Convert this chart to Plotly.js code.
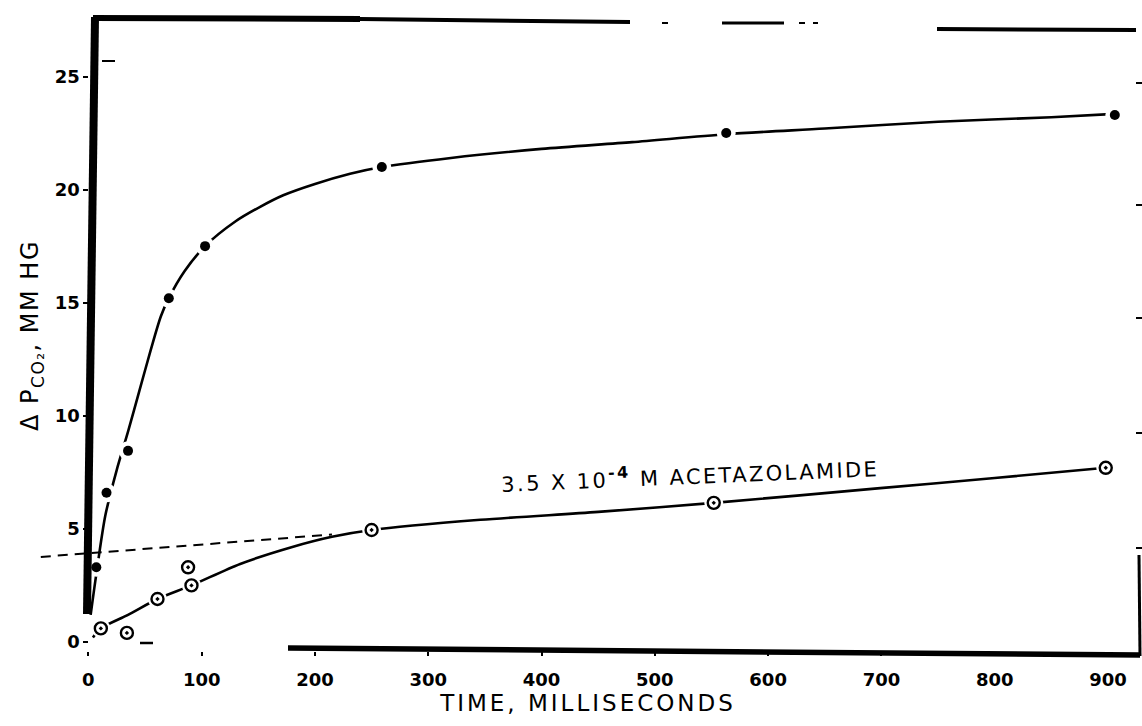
<!DOCTYPE html>
<html>
<head>
<meta charset="utf-8">
<script src="https://cdn.plot.ly/plotly-3.0.1.min.js"></script>
<style>
  html, body { margin: 0; padding: 0; background: #ffffff; }
  #chart { width: 1142px; height: 726px; }
  .xtitle { letter-spacing: 3px; }
  .ytitle { letter-spacing: 1.5px; }
  .annotation-text { letter-spacing: 2.4px; }
</style>
</head>
<body>
<div id="chart"></div>
<script>
// ---- data ----
// measured points, control (no inhibitor) - filled circles
const timeControl = [7, 16, 35, 71, 103, 259, 563, 906];
const pco2Control = [3.3, 6.6, 8.45, 15.2, 17.5, 21.0, 22.5, 23.3];
// measured points, 3.5 x 10^-4 M acetazolamide - open circles
const timeAcetazolamide = [11, 34, 61, 88, 91, 250, 552, 898];
const pco2Acetazolamide = [0.6, 0.4, 1.9, 3.3, 2.5, 4.95, 6.15, 7.7];
// hand-drawn smooth curve through control points
const curveControlTime = [2, 7, 15, 25, 35, 45, 55, 64, 71, 85, 103, 130, 152, 172, 200, 231, 259, 320, 400, 480, 563, 650, 750, 850, 906];
const curveControlPco2 = [1.2, 3.0, 5.6, 7.6, 9.3, 11.1, 12.9, 14.4, 15.2, 16.4, 17.5, 18.6, 19.25, 19.75, 20.25, 20.7, 21.0, 21.4, 21.8, 22.1, 22.45, 22.7, 23.0, 23.2, 23.35];
// hand-drawn curve through acetazolamide points
const curveAcetTime = [4, 11, 35, 61, 91, 134, 180, 215, 250, 346, 450, 552, 699, 800, 898];
const curveAcetPco2 = [0.2, 0.6, 1.2, 1.9, 2.5, 3.45, 4.2, 4.65, 4.95, 5.4, 5.75, 6.15, 6.8, 7.25, 7.7];
// dashed extrapolation of the slow phase back to time zero
const dashTime = [-42, 215];
const dashPco2 = [3.76, 4.75];
// axis ticks
const xTicks = [0, 100, 200, 300, 400, 500, 600, 700, 800, 900];
const xTickLabels = ['0', '100', '200', '300', '400', '500', '600', '700', '800', '900'];
const yTicks = [0, 5, 10, 15, 20, 25];
const yTickLabels = ['0', '5', '10', '15', '20', '25'];

// ---- layout geometry ----
const W = 1142, H = 726;
const M = {l: 34, r: 0, t: 20, b: 75};
const xRange = [-48, 930];
const yRange = [-0.4, 27.5];
const plotW = W - M.l - M.r, plotH = H - M.t - M.b;
const px = x => (x - M.l) / plotW;           // figure pixel -> paper x
const py = y => (H - M.b - y) / plotH;        // figure pixel -> paper y
const FONT = '"DejaVu Sans", "Liberation Sans", sans-serif';

function seg(x0, y0, x1, y1, w) {
  return {type: 'line', xref: 'paper', yref: 'paper', layer: 'above',
          x0: px(x0), y0: py(y0), x1: px(x1), y1: py(y1),
          line: {color: '#000', width: w}};
}

// scanned frame remnants around the figure
const shapes = [
  seg(95, 17, 87, 614, 8),          // thick left frame
  seg(93, 18, 360, 19, 6),          // top frame, heavy part
  seg(360, 19, 630, 22, 4),         // top frame, thinning
  seg(662, 23, 668, 23, 2),
  seg(722, 23, 784, 23, 3),
  seg(799, 23, 805, 23, 2),
  seg(813, 23, 818, 23, 2),
  seg(937, 29, 1136, 30, 4),        // top right frame
  seg(102, 61, 115, 61, 2),         // small mark near 25
  seg(288, 648, 1140, 655, 5.5),    // bottom frame
  seg(1139, 555, 1140, 656, 3),     // right frame
  seg(140, 643, 153, 643, 2.5),
  seg(1136, 83, 1142, 83, 2),
  seg(1136, 205, 1142, 205, 2),
  seg(1136, 318, 1142, 318, 2),
  seg(1136, 433, 1142, 433, 2),
  seg(1136, 548, 1142, 548, 2)
];

const traces = [
  {x: curveControlTime, y: curveControlPco2, type: 'scatter', mode: 'lines',
   line: {color: '#000', width: 2.6, shape: 'spline', smoothing: 0.8},
   hoverinfo: 'skip', showlegend: false},
  {x: curveAcetTime, y: curveAcetPco2, type: 'scatter', mode: 'lines',
   line: {color: '#000', width: 2.6, shape: 'spline', smoothing: 0.8},
   hoverinfo: 'skip', showlegend: false},
  {x: dashTime, y: dashPco2, type: 'scatter', mode: 'lines',
   line: {color: '#000', width: 2, dash: '10px,7px'},
   hoverinfo: 'skip', showlegend: false},
  // white halos giving the gaps in the curves around each point
  {x: timeControl, y: pco2Control, type: 'scatter', mode: 'markers',
   marker: {symbol: 'circle', size: 19, color: '#fff', line: {width: 0}},
   hoverinfo: 'skip', showlegend: false},
  {x: timeAcetazolamide, y: pco2Acetazolamide, type: 'scatter', mode: 'markers',
   marker: {symbol: 'circle', size: 19, color: '#fff', line: {width: 0}},
   hoverinfo: 'skip', showlegend: false},
  {x: timeControl, y: pco2Control, type: 'scatter', mode: 'markers', name: 'Control',
   marker: {symbol: 'circle', size: 10, color: '#000', line: {width: 0}},
   showlegend: false},
  {x: timeAcetazolamide, y: pco2Acetazolamide, type: 'scatter', mode: 'markers',
   name: '3.5 x 10^-4 M acetazolamide',
   marker: {symbol: 'circle-dot', size: 12, color: '#fff', line: {color: '#000', width: 2.4}},
   showlegend: false}
];

const layout = {
  width: W, height: H,
  margin: M,
  paper_bgcolor: '#fff', plot_bgcolor: '#fff',
  showlegend: false,
  font: {family: FONT, color: '#000'},
  xaxis: {
    range: xRange, showgrid: false, zeroline: false, showline: false,
    tickmode: 'array', tickvals: xTicks, ticktext: xTickLabels,
    ticks: 'outside', ticklen: 4, tickwidth: 2, tickcolor: '#000',
    ticklabelstandoff: 8,
    tickfont: {family: FONT, size: 18, weight: 'bold', color: '#000'},
    title: {text: 'TIME, MILLISECONDS', font: {family: FONT, size: 23, color: '#000'}, standoff: 6}
  },
  yaxis: {
    range: yRange, showgrid: false, zeroline: false, showline: false,
    anchor: 'free', position: (0 - xRange[0]) / (xRange[1] - xRange[0]),
    tickmode: 'array', tickvals: yTicks, ticktext: yTickLabels,
    ticks: 'outside', ticklen: 5, tickwidth: 2, tickcolor: '#000',
    tickfont: {family: FONT, size: 18, weight: 'bold', color: '#000'},
    title: {text: 'Δ P<span style="font-size:17px;baseline-shift:-6px">CO₂</span>, MM HG',
            font: {family: FONT, size: 24, color: '#000'}, standoff: 8}
  },
  shapes: shapes,
  annotations: [
    {xref: 'paper', yref: 'paper', x: px(690), y: py(474),
     text: '3.5 X 10<span style="font-size:16px;font-weight:bold;baseline-shift:9px">-4</span> M ACETAZOLAMIDE', textangle: -2.4,
     showarrow: false, xanchor: 'center', yanchor: 'middle',
     font: {family: FONT, size: 21, color: '#000'}}
  ]
};

Plotly.newPlot('chart', traces, layout, {staticPlot: true, displayModeBar: false});
</script>
</body>
</html>
